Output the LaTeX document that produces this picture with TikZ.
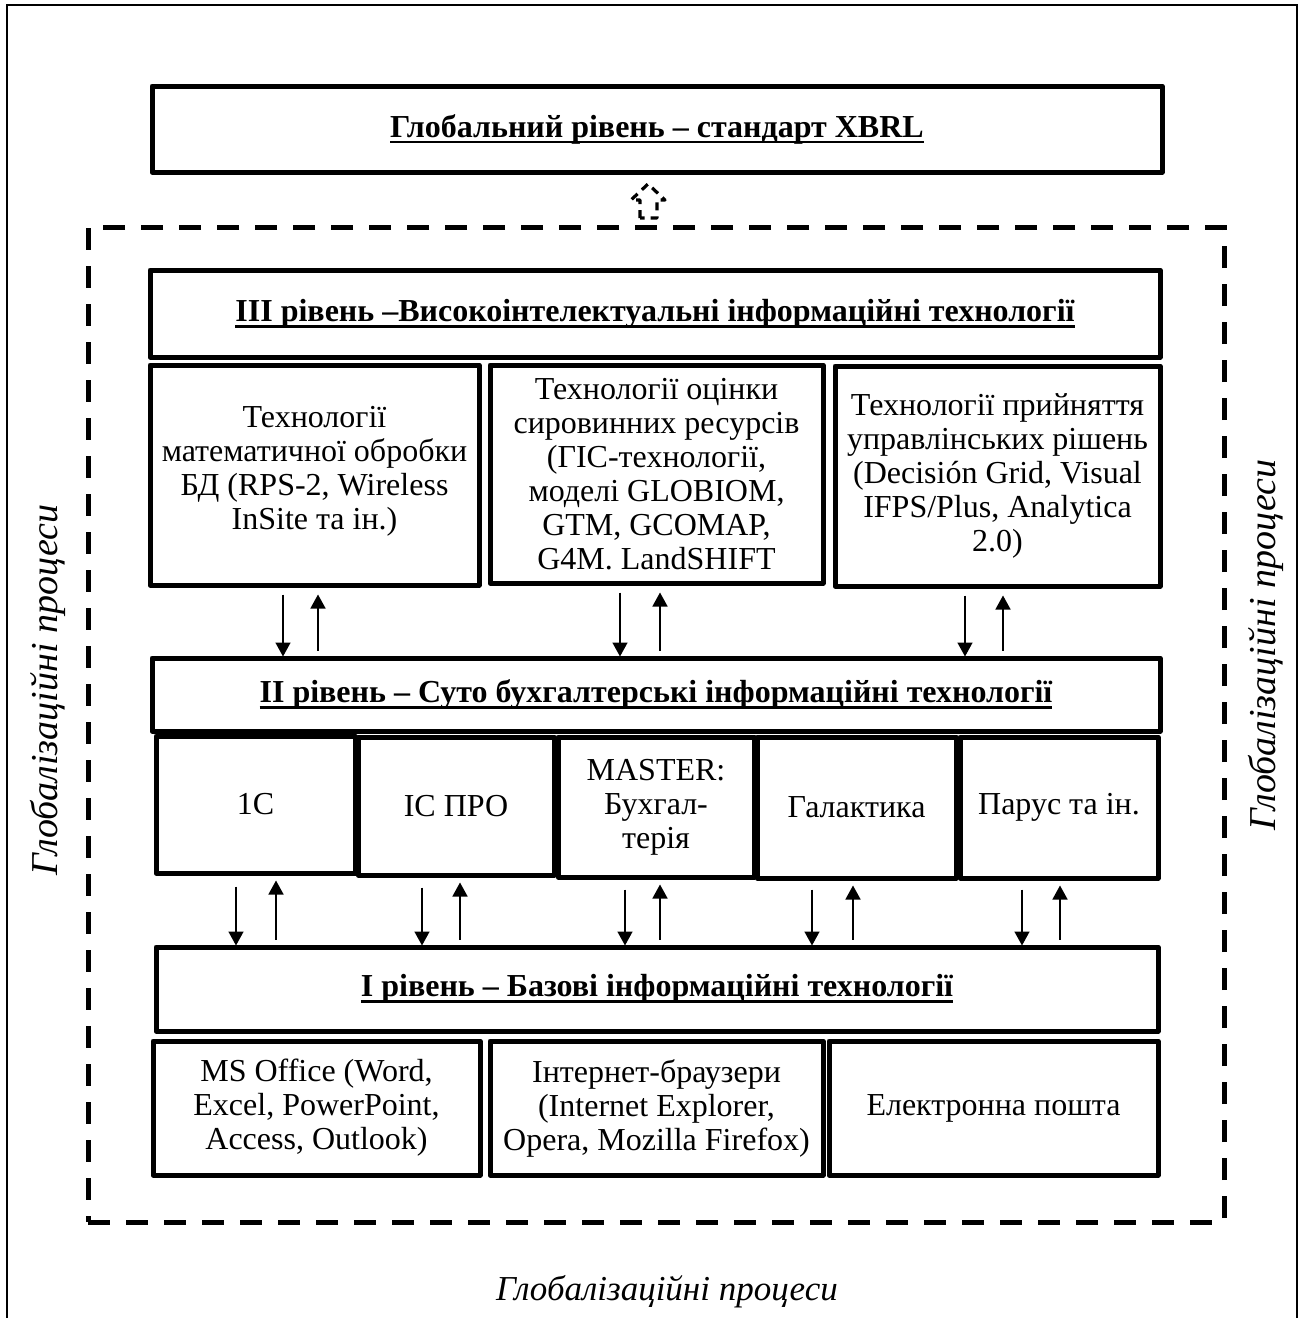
\documentclass[tikz,border=0pt]{standalone}
\usepackage{fontspec}
\setmainfont{Liberation Serif}
\usetikzlibrary{arrows.meta,calc}
\newcommand{\myul}[1]{\setbox0=\hbox{#1}\leavevmode\rlap{\rule[-3.2pt]{\wd0}{1.4pt}}\box0}
\begin{document}
\begin{tikzpicture}[x=0.5pt,y=-0.5pt,
 box/.style={draw, line width=2.5pt, line join=round, align=center, inner sep=0pt, font=\fontsize{16}{17}\selectfont},
 headbox/.style={box, font=\fontsize{16}{17}\selectfont\bfseries},
 arr/.style={line width=0.75pt, -{Triangle[length=7pt,width=7.5pt]}},
 side/.style={font=\fontsize{19}{20}\selectfont\itshape, inner sep=0pt},
 dashframe/.style={draw, line width=2.5pt, dash pattern=on 11pt off 8pt, inner sep=0pt},
]
\useasboundingbox (0,0) rectangle (1304,1318);
% outer frame (open at bottom)
\draw[line width=1pt] (7,1318) -- (7,5) -- (1297,5) -- (1297,1318);

% global level
\node[headbox, minimum width=505pt, minimum height=43pt] (glob) at (657,129) {\myul{Глобальний рівень – стандарт XBRL}};

% dashed frame
\node[dashframe, minimum width=568pt, minimum height=497.5pt] (frame) at (656,724.5) {};

% dashed block arrow up
\draw[line width=1.6pt, dash pattern=on 4pt off 3pt, line join=round]
  (640,218) -- (640,200) -- (631,200) -- (648,184) -- (665,200) -- (657,200) -- (657,218) -- cycle;

% level III
\node[headbox, minimum width=505pt, minimum height=43.5pt] (h3) at (655,313.5) {\myul{III рівень –Високоінтелектуальні інформаційні технології}};
\node[box, minimum width=164.5pt, minimum height=110pt] (t1) at (314.5,475) {\\[-10pt]Технології\\математичної обробки\\БД (RPS-2, Wireless\\InSite та ін.)};
\node[box, minimum width=166.5pt, minimum height=109pt] (t2) at (656.5,474) {Технології оцінки\\сировинних ресурсів\\(ГІС-технології,\\моделі GLOBIOM,\\GTM, GCOMAP,\\G4M. LandSHIFT};
\node[box, minimum width=162.5pt, minimum height=110pt] (t3) at (997.5,476) {Технології прийняття\\управлінських рішень\\(Decisión Grid, Visual\\IFPS/Plus, Analytica\\2.0)};

% level II
\node[headbox, minimum width=504pt, minimum height=36.5pt] (h2) at (656,694.5) {\myul{II рівень – Суто бухгалтерські інформаційні технології}};
\node[box, minimum width=99.5pt, minimum height=68.5pt] (s1) at (255.5,804.5) {1С};
\node[box, minimum width=98pt, minimum height=69pt] (s2) at (456,806) {ІС ПРО};
\node[box, minimum width=98pt, minimum height=70pt] (s3) at (656,807) {MASTER:\\Бухгал-\\терія};
\node[box, minimum width=99.5pt, minimum height=70.5pt] (s4) at (856.5,807.5) {Галактика};
\node[box, minimum width=99pt, minimum height=70.5pt] (s5) at (1059,807.5) {Парус та ін.};

% level I
\node[headbox, minimum width=501pt, minimum height=42pt] (h1) at (657,989) {\myul{I рівень – Базові інформаційні технології}};
\node[box, minimum width=163.5pt, minimum height=67pt] (u1) at (316.5,1108) {MS Office (Word,\\Excel, PowerPoint,\\Access, Outlook)};
\node[box, minimum width=166.5pt, minimum height=67pt] (u2) at (656.5,1108) {Інтернет-браузери\\(Internet Explorer,\\Opera, Mozilla Firefox)};
\node[box, minimum width=164.5pt, minimum height=67pt] (u3) at (993.5,1108) {Електронна пошта};

% arrows III <-> II
\draw[arr] ([xshift=-15.75pt,yshift=-3.5pt]t1.south) -- ([xshift=-15.75pt,yshift=-0.5pt]t1.south |- h2.north);
\draw[arr] ([xshift=1.75pt,yshift=2.5pt]t1.south |- h2.north) -- ([xshift=1.75pt,yshift=-3.5pt]t1.south);
\draw[arr] ([xshift=-18.25pt,yshift=-3.5pt]t2.south) -- ([xshift=-18.25pt,yshift=-0.5pt]t2.south |- h2.north);
\draw[arr] ([xshift=1.75pt,yshift=2.5pt]t2.south |- h2.north) -- ([xshift=1.75pt,yshift=-3.5pt]t2.south);
\draw[arr] ([xshift=-16.25pt,yshift=-3.5pt]t3.south) -- ([xshift=-16.25pt,yshift=-0.5pt]t3.south |- h2.north);
\draw[arr] ([xshift=2.75pt,yshift=2.5pt]t3.south |- h2.north) -- ([xshift=2.75pt,yshift=-3.5pt]t3.south);

% arrows II <-> I
\draw[arr] ([xshift=-9.75pt,yshift=-5.5pt]s1.south) -- ([xshift=-9.75pt,yshift=-0.5pt]s1.south |- h1.north);
\draw[arr] ([xshift=10.25pt,yshift=2.5pt]s1.south |- h1.north) -- ([xshift=10.25pt,yshift=-2.5pt]s1.south);
\draw[arr] ([xshift=-17pt,yshift=-5pt]s2.south) -- ([xshift=-17pt,yshift=-0.5pt]s2.south |- h1.north);
\draw[arr] ([xshift=2pt,yshift=2.5pt]s2.south |- h1.north) -- ([xshift=2pt,yshift=-2.5pt]s2.south);
\draw[arr] ([xshift=-15.5pt,yshift=-5pt]s3.south) -- ([xshift=-15.5pt,yshift=-0.5pt]s3.south |- h1.north);
\draw[arr] ([xshift=2pt,yshift=2.5pt]s3.south |- h1.north) -- ([xshift=2pt,yshift=-2.5pt]s3.south);
\draw[arr] ([xshift=-22.25pt,yshift=-4.5pt]s4.south) -- ([xshift=-22.25pt,yshift=-0.5pt]s4.south |- h1.north);
\draw[arr] ([xshift=-1.75pt,yshift=2.5pt]s4.south |- h1.north) -- ([xshift=-1.75pt,yshift=-2.5pt]s4.south);
\draw[arr] ([xshift=-18.5pt,yshift=-4.5pt]s5.south) -- ([xshift=-18.5pt,yshift=-0.5pt]s5.south |- h1.north);
\draw[arr] ([xshift=0.5pt,yshift=2.5pt]s5.south |- h1.north) -- ([xshift=0.5pt,yshift=-2.5pt]s5.south);

% side labels
\node[side, rotate=90] (gl) at (48,690) {Глобалізаційні процеси};
\node[side, rotate=90] (gr) at (1266,645) {Глобалізаційні процеси};
\node[side, font=\fontsize{17.5}{19}\selectfont\itshape] (gb) at (667,1292) {Глобалізаційні процеси};
\end{tikzpicture}
\end{document}
